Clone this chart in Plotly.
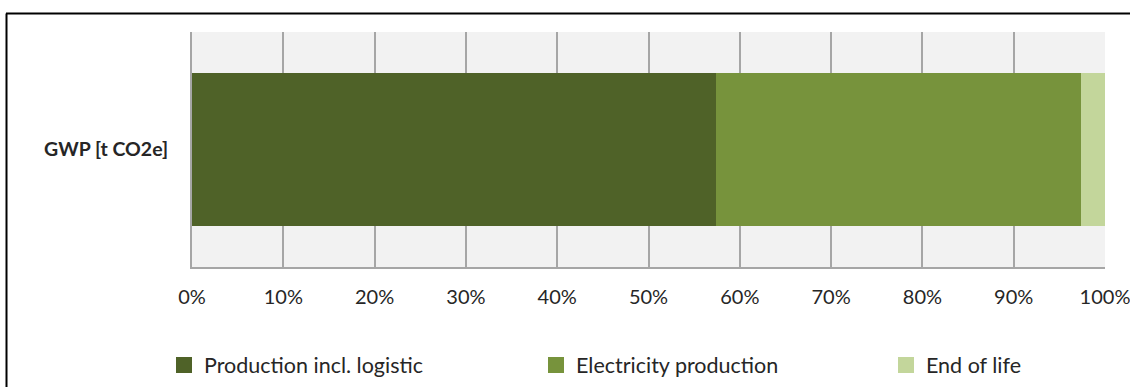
import plotly.graph_objects as go

categories = ["GWP [t CO2e]"]
series_names = ["Production incl. logistic", "Electricity production", "End of life"]
production = [0.574]
electricity = [0.400]
end_of_life = [0.026]
tick_vals = [0, 0.1, 0.2, 0.3, 0.4, 0.5, 0.6, 0.7, 0.8, 0.9, 1.0]
tick_text = ["0%", "10%", "20%", "30%", "40%", "50%", "60%", "70%", "80%", "90%", "100%"]

colors = ["#4f6228", "#77933c", "#c3d69b"]
values = [production, electricity, end_of_life]
legend_ids = ["legend", "legend2", "legend3"]
legend_x = [164, 536, 886]

W, H = 1130, 387
L, R, T, B = 192, 25, 32, 120
FONT = "Lato, 'Open Sans', sans-serif"
TXT = "#262626"

fig = go.Figure()
for name, vals, col in zip(series_names, values, colors):
    fig.add_trace(go.Bar(
        y=categories, x=vals, name=name, orientation="h",
        marker=dict(color=col, line=dict(width=0)),
        width=0.65, showlegend=False,
    ))
# legend entries with larger square swatches
for name, col, lg in zip(series_names, colors, legend_ids):
    fig.add_trace(go.Scatter(
        x=[None], y=[None], mode="markers", name=name,
        marker=dict(symbol="square", size=17, color=col),
        legend=lg, showlegend=True, hoverinfo="skip",
    ))

legend_common = dict(
    orientation="h", xref="container", yref="container",
    yanchor="middle", xanchor="left",
    font=dict(family=FONT, size=21.5, color=TXT),
    bgcolor="rgba(0,0,0,0)", itemwidth=30,
)
layout_legends = {}
for lg, lx in zip(legend_ids, legend_x):
    d = dict(legend_common)
    d.update(x=lx / W, y=1 - 365 / H)
    layout_legends[lg] = d

fig.update_layout(
    width=W, height=H,
    margin=dict(l=L, r=R, t=T, b=B, autoexpand=False),
    barmode="stack",
    plot_bgcolor="#f2f2f2",
    paper_bgcolor="white",
    font=dict(family=FONT, color=TXT),
    showlegend=True,
    **layout_legends,
)

fig.update_xaxes(
    range=[0, 1], tickvals=tick_vals, ticktext=tick_text,
    showgrid=True, gridcolor="#a6a6a6", gridwidth=2,
    showline=True, linecolor="#a6a6a6", linewidth=2,
    zeroline=False, ticks="", ticklabelstandoff=11,
    ticklabeloverflow="allow",
    tickfont=dict(family=FONT, size=20, color=TXT),
    automargin=False, fixedrange=True,
)
fig.update_yaxes(
    range=[-0.5, 0.5],
    showgrid=False, zeroline=False,
    showline=True, linecolor="#a6a6a6", linewidth=2,
    ticks="", ticklabelstandoff=18,
    tickfont=dict(family=FONT, size=19.5, color=TXT, weight="bold"),
    automargin=False, fixedrange=True,
)

# outer frame (top and left lines only visible in the crop)
pw = W - L - R
ph = H - T - B
def px_x(p):
    return (p - L) / pw
def px_y(p):
    return (H - B - p) / ph

fig.add_shape(type="line", xref="paper", yref="paper",
              x0=px_x(6), x1=px_x(W + 10), y0=px_y(13.5), y1=px_y(13.5),
              line=dict(color="black", width=2))
fig.add_shape(type="line", xref="paper", yref="paper",
              x0=px_x(6.5), x1=px_x(6.5), y0=px_y(13.5), y1=px_y(H + 10),
              line=dict(color="black", width=2))

fig.write_html("out.html")
